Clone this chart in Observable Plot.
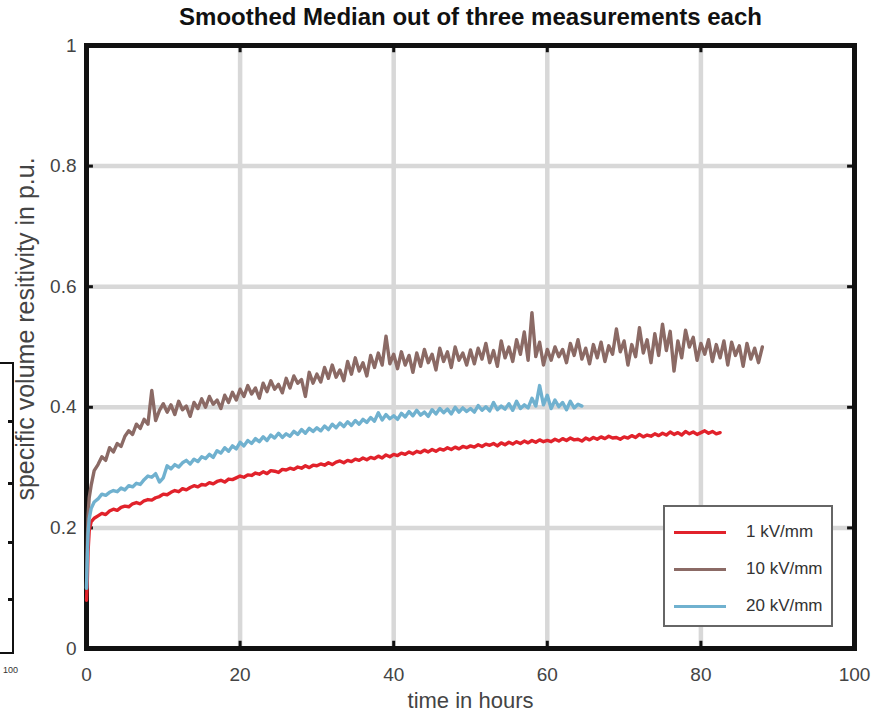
<!DOCTYPE html>
<html><head><meta charset="utf-8">
<script src="https://cdn.jsdelivr.net/npm/d3@7"></script>
<script src="https://cdn.jsdelivr.net/npm/@observablehq/plot@0.6"></script>
<style>
body{margin:0;background:#fff;font-family:"Liberation Sans",Arial,sans-serif;}
#wrap{position:relative;width:891px;height:712px;overflow:hidden;background:#fff}
#legend{position:absolute;left:663px;top:505px;width:166px;height:118px;border:2px solid #666;background:#fff}
.row{position:absolute;left:0;height:20px;width:166px}
.sw{position:absolute;left:9px;top:9px;width:52px;height:3px}
.lb{position:absolute;left:81px;top:0;font-size:17px;line-height:20px;color:#333}
#frag{position:absolute;left:-4px;top:362px;width:14px;height:288px;border:2px solid #111;background:#fff}
.ft{position:absolute;right:0;width:4px;height:3px;background:#111}
#fraglab{position:absolute;left:3px;top:665px;font-size:9px;color:#333}
</style></head><body><div id="wrap"></div>
<script>
const seriesNames = ["1 kV/mm", "10 kV/mm", "20 kV/mm"];
const seriesColors = ["#e1222b", "#8b6a65", "#70b1cf"];
const xTicks = [0, 20, 40, 60, 80, 100];
const yTicks = [0, 0.2, 0.4, 0.6, 0.8, 1];
const titleText = "Smoothed Median out of three measurements each";
const xLabel = "time in hours";
const yLabel = "specific volume resitivity in p.u.";

// early samples (hours) shared by all series
const earlyTimes = [0, 0.1, 0.2, 0.35, 0.6];
// main samples start at 1 h, every 0.5 h
const mainStart = 1, mainStep = 0.5;

const red_early = [0.08, 0.11, 0.16, 0.195, 0.21];
const red_main = [
0.216,0.220,0.224,0.222,0.228,0.231,0.229,0.234,0.236,0.235,0.240,0.242,0.240,0.245,0.247,0.246,0.250,0.252,0.256,
0.255,0.259,0.262,0.260,0.265,0.263,0.267,0.270,0.268,0.272,0.271,0.275,0.273,0.277,0.279,0.276,0.281,0.280,0.283,0.286,
0.284,0.288,0.287,0.291,0.289,0.293,0.290,0.295,0.294,0.292,0.297,0.296,0.299,0.297,0.301,0.299,0.303,0.300,0.304,0.303,
0.306,0.304,0.308,0.305,0.309,0.311,0.308,0.312,0.310,0.314,0.312,0.316,0.313,0.317,0.315,0.319,0.316,0.321,0.318,0.322,
0.320,0.324,0.322,0.326,0.323,0.327,0.325,0.329,0.326,0.330,0.327,0.331,0.329,0.333,0.330,0.334,0.331,0.335,0.333,0.336,
0.334,0.338,0.335,0.339,0.337,0.340,0.336,0.341,0.338,0.342,0.339,0.343,0.340,0.344,0.341,0.345,0.342,0.346,0.343,0.345,
0.343,0.347,0.344,0.348,0.345,0.349,0.346,0.347,0.344,0.349,0.346,0.350,0.347,0.351,0.348,0.352,0.349,0.350,0.347,0.351,
0.349,0.353,0.350,0.355,0.351,0.354,0.352,0.356,0.353,0.357,0.354,0.359,0.355,0.358,0.354,0.360,0.356,0.359,0.355,0.358,
0.361,0.357,0.360,0.356,0.358];

const brown_early = [0.10, 0.17, 0.22, 0.25, 0.27];
const brown_main = [
0.295,0.305,0.318,0.312,0.333,0.326,0.340,0.335,0.352,0.361,0.355,0.372,0.365,0.380,0.372,0.428,0.378,0.395,0.406,
0.392,0.404,0.388,0.410,0.396,0.402,0.385,0.408,0.398,0.414,0.400,0.418,0.405,0.412,0.398,0.420,0.408,0.425,0.412,0.430,
0.418,0.436,0.422,0.432,0.415,0.440,0.426,0.444,0.430,0.438,0.424,0.448,0.432,0.452,0.440,0.446,0.418,0.458,0.440,0.455,
0.442,0.466,0.448,0.470,0.450,0.462,0.444,0.476,0.455,0.482,0.460,0.474,0.452,0.486,0.466,0.490,0.470,0.518,0.472,0.488,
0.464,0.492,0.470,0.486,0.458,0.490,0.468,0.496,0.474,0.488,0.462,0.498,0.476,0.492,0.466,0.500,0.478,0.490,0.470,0.495,
0.472,0.498,0.480,0.506,0.474,0.494,0.468,0.510,0.482,0.500,0.476,0.512,0.488,0.525,0.478,0.557,0.484,0.508,0.470,0.496,
0.478,0.500,0.484,0.496,0.474,0.506,0.486,0.512,0.480,0.498,0.472,0.504,0.482,0.508,0.476,0.502,0.488,0.530,0.492,0.510,
0.470,0.504,0.484,0.532,0.490,0.512,0.474,0.522,0.486,0.538,0.494,0.526,0.460,0.510,0.482,0.528,0.500,0.516,0.478,0.506,
0.488,0.512,0.476,0.504,0.482,0.510,0.470,0.508,0.486,0.502,0.468,0.506,0.480,0.498,0.474,0.500];

const blue_early = [0.10, 0.15, 0.19, 0.215, 0.232];
const blue_main = [
0.243,0.248,0.256,0.254,0.259,0.262,0.260,0.266,0.263,0.270,0.268,0.274,0.272,0.280,0.286,0.284,0.290,0.276,0.283,
0.303,0.298,0.305,0.301,0.308,0.312,0.306,0.314,0.310,0.318,0.315,0.322,0.317,0.328,0.324,0.333,0.327,0.336,0.331,0.342,
0.336,0.345,0.340,0.348,0.343,0.351,0.345,0.354,0.349,0.357,0.350,0.356,0.352,0.360,0.355,0.363,0.357,0.365,0.360,0.366,
0.361,0.369,0.363,0.372,0.366,0.374,0.368,0.376,0.370,0.378,0.372,0.380,0.375,0.383,0.377,0.391,0.379,0.388,0.381,0.386,
0.380,0.390,0.384,0.393,0.386,0.395,0.387,0.392,0.385,0.396,0.389,0.398,0.391,0.397,0.389,0.400,0.392,0.399,0.393,0.398,
0.392,0.403,0.395,0.401,0.394,0.408,0.396,0.402,0.397,0.406,0.395,0.410,0.398,0.404,0.399,0.415,0.402,0.436,0.404,0.420,
0.398,0.412,0.401,0.408,0.396,0.410,0.399,0.405,0.402];

const seriesEarly = [red_early, brown_early, blue_early];
const seriesMain = [red_main, brown_main, blue_main];

const rows = [];
seriesNames.forEach((s, k) => {
  earlyTimes.forEach((t, i) => rows.push({t, v: seriesEarly[k][i], s}));
  seriesMain[k].forEach((v, i) => rows.push({t: mainStart + i * mainStep, v, s}));
});

const gridStyle = {stroke: "#d8d8d8", strokeWidth: 4.5, strokeOpacity: 1};
const chart = Plot.plot({
  width: 891, height: 712,
  marginLeft: 86, marginRight: 37, marginTop: 45, marginBottom: 64,
  style: {fontFamily: "'Liberation Sans', Arial, sans-serif", color: "#444", background: "#fff"},
  x: {domain: [0, 100]},
  y: {domain: [0, 1]},
  color: {domain: seriesNames, range: seriesColors},
  marks: [
    Plot.gridX(xTicks, gridStyle),
    Plot.gridY(yTicks, gridStyle),
    Plot.frame({stroke: "#111", strokeWidth: 5}),
    Plot.ruleX(xTicks, {y1: 0, y2: 0.012, stroke: "#111", strokeWidth: 3}),
    Plot.ruleX(xTicks, {y1: 1, y2: 0.988, stroke: "#111", strokeWidth: 3}),
    Plot.ruleY(yTicks, {x1: 0, x2: 0.9, stroke: "#111", strokeWidth: 3}),
    Plot.ruleY(yTicks, {x1: 100, x2: 99.1, stroke: "#111", strokeWidth: 3}),
    Plot.line(rows, {x: "t", y: "v", z: "s", stroke: "s", strokeWidth: 3.4}),
    Plot.axisX({ticks: xTicks, tickSize: 0, tickPadding: 19, fontSize: 19, label: null}),
    Plot.axisY({ticks: yTicks, tickSize: 0, tickPadding: 10, fontSize: 19, label: null,
                tickFormat: d => (d === 0 || d === 1) ? String(d) : d.toFixed(1)}),
    Plot.text([xLabel], {frameAnchor: "bottom", lineAnchor: "middle", dy: 52, fontSize: 22, fill: "#444"}),
    Plot.text([yLabel], {frameAnchor: "left", textAnchor: "middle", lineAnchor: "middle", dx: -61, dy: -18, rotate: -90, fontSize: 25, fill: "#444"}),
    Plot.text([titleText], {frameAnchor: "top", lineAnchor: "middle", dy: -28, fontSize: 24, fontWeight: "bold", fill: "#111"})
  ]
});
const wrap = document.getElementById("wrap");
wrap.appendChild(chart);

// neighbouring figure fragment at the left edge
const frag = document.createElement("div"); frag.id = "frag";
[56, 118, 177, 234].forEach(y => { const t = document.createElement("div"); t.className = "ft"; t.style.top = y + "px"; frag.appendChild(t); });
wrap.appendChild(frag);
const fl = document.createElement("div"); fl.id = "fraglab"; fl.textContent = "100"; wrap.appendChild(fl);

// legend
const lg = document.createElement("div"); lg.id = "legend";
seriesNames.forEach((s, i) => {
  const r = document.createElement("div"); r.className = "row"; r.style.top = (15 + i * 37) + "px";
  const sw = document.createElement("div"); sw.className = "sw"; sw.style.background = seriesColors[i];
  const lb = document.createElement("div"); lb.className = "lb"; lb.textContent = s;
  r.appendChild(sw); r.appendChild(lb); lg.appendChild(r);
});
wrap.appendChild(lg);
</script></body></html>
